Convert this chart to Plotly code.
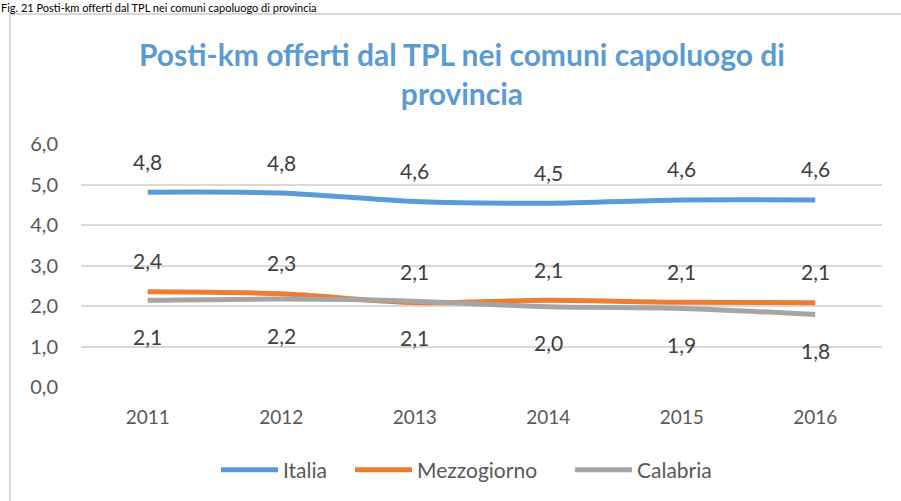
import plotly.graph_objects as go

years = ["2011", "2012", "2013", "2014", "2015", "2016"]
italia = [4.81, 4.79, 4.58, 4.54, 4.62, 4.62]
mezzogiorno = [2.35, 2.30, 2.08, 2.14, 2.09, 2.08]
calabria = [2.14, 2.17, 2.12, 1.98, 1.94, 1.79]
y_ticks = [0, 1, 2, 3, 4, 5, 6]
y_tick_labels = ["0,0", "1,0", "2,0", "3,0", "4,0", "5,0", "6,0"]

FONT = "Lato"
W, H = 901, 501
L, R, T, B = 81, 19, 144, 114
pw, ph = W - L - R, H - T - B

def px_x(px):
    return (px - L) / pw

def px_y(py):
    return (H - B - py) / ph

series = [
    ("Italia", italia, "#5B9BD5", 31, 62),
    ("Mezzogiorno", mezzogiorno, "#ED7D31", 31, 148),
    ("Calabria", calabria, "#A5A5A5", -36, 80),
]

fig = go.Figure()
annotations = []
for name, vals, color, shift, lw in series:
    fig.add_trace(go.Scatter(
        x=years, y=vals, name=name, mode="lines", legendwidth=lw,
        line=dict(color=color, width=5, shape="spline", smoothing=0.8),
    ))
    for i, yv in enumerate(vals):
        annotations.append(dict(
            x=i, y=yv, xref="x", yref="y", text=f"{yv:.1f}".replace(".", ","),
            showarrow=False, yshift=shift, font=dict(family=FONT, size=21, color="#404040"),
        ))

annotations.append(dict(
    x=px_x(462), y=px_y(73), xref="paper", yref="paper",
    text="<b>Posti-km offerti dal TPL nei comuni capoluogo di<br>provincia</b>",
    showarrow=False, xanchor="center", yanchor="middle",
    font=dict(family=FONT, size=30, color="#5B9BD5"),
))
annotations.append(dict(
    x=px_x(0), y=px_y(0), xref="paper", yref="paper",
    text="Fig. 21 Posti-km offerti dal TPL nei comuni capoluogo di provincia",
    showarrow=False, xanchor="left", yanchor="top", borderpad=0,
    font=dict(family=FONT, size=11, color="#000000"),
))

fig.add_shape(type="rect", xref="paper", yref="paper",
              x0=px_x(10), x1=px_x(910), y0=px_y(510), y1=px_y(14),
              line=dict(color="#D9D9D9", width=2), fillcolor="rgba(0,0,0,0)", layer="below")

fig.update_layout(
    width=W, height=H,
    margin=dict(l=L, r=R, t=T, b=B, autoexpand=False),
    paper_bgcolor="white", plot_bgcolor="white",
    font=dict(family=FONT, size=19, color="#595959"),
    showlegend=True,
    legend=dict(orientation="h", x=px_x(216), xanchor="left", y=px_y(470), yanchor="middle",
                font=dict(family=FONT, size=21, color="#595959"), itemwidth=57,
                bgcolor="rgba(0,0,0,0)"),
    annotations=annotations,
    xaxis=dict(type="category", range=[-0.5, 5.5], showgrid=False, showline=False,
               ticks="", tickfont=dict(size=19, color="#595959"), ticklabelstandoff=17,
               automargin=False),
    yaxis=dict(range=[0, 6], tickvals=y_ticks, ticktext=y_tick_labels, showgrid=True,
               gridcolor="#D9D9D9", gridwidth=2, zeroline=False, showline=False, ticks="",
               tickfont=dict(size=20, color="#595959"), ticklabelstandoff=22,
               automargin=False),
)

fig.write_html("out.html", post_script="document.body.style.margin='0';",
               config={"displayModeBar": False})
